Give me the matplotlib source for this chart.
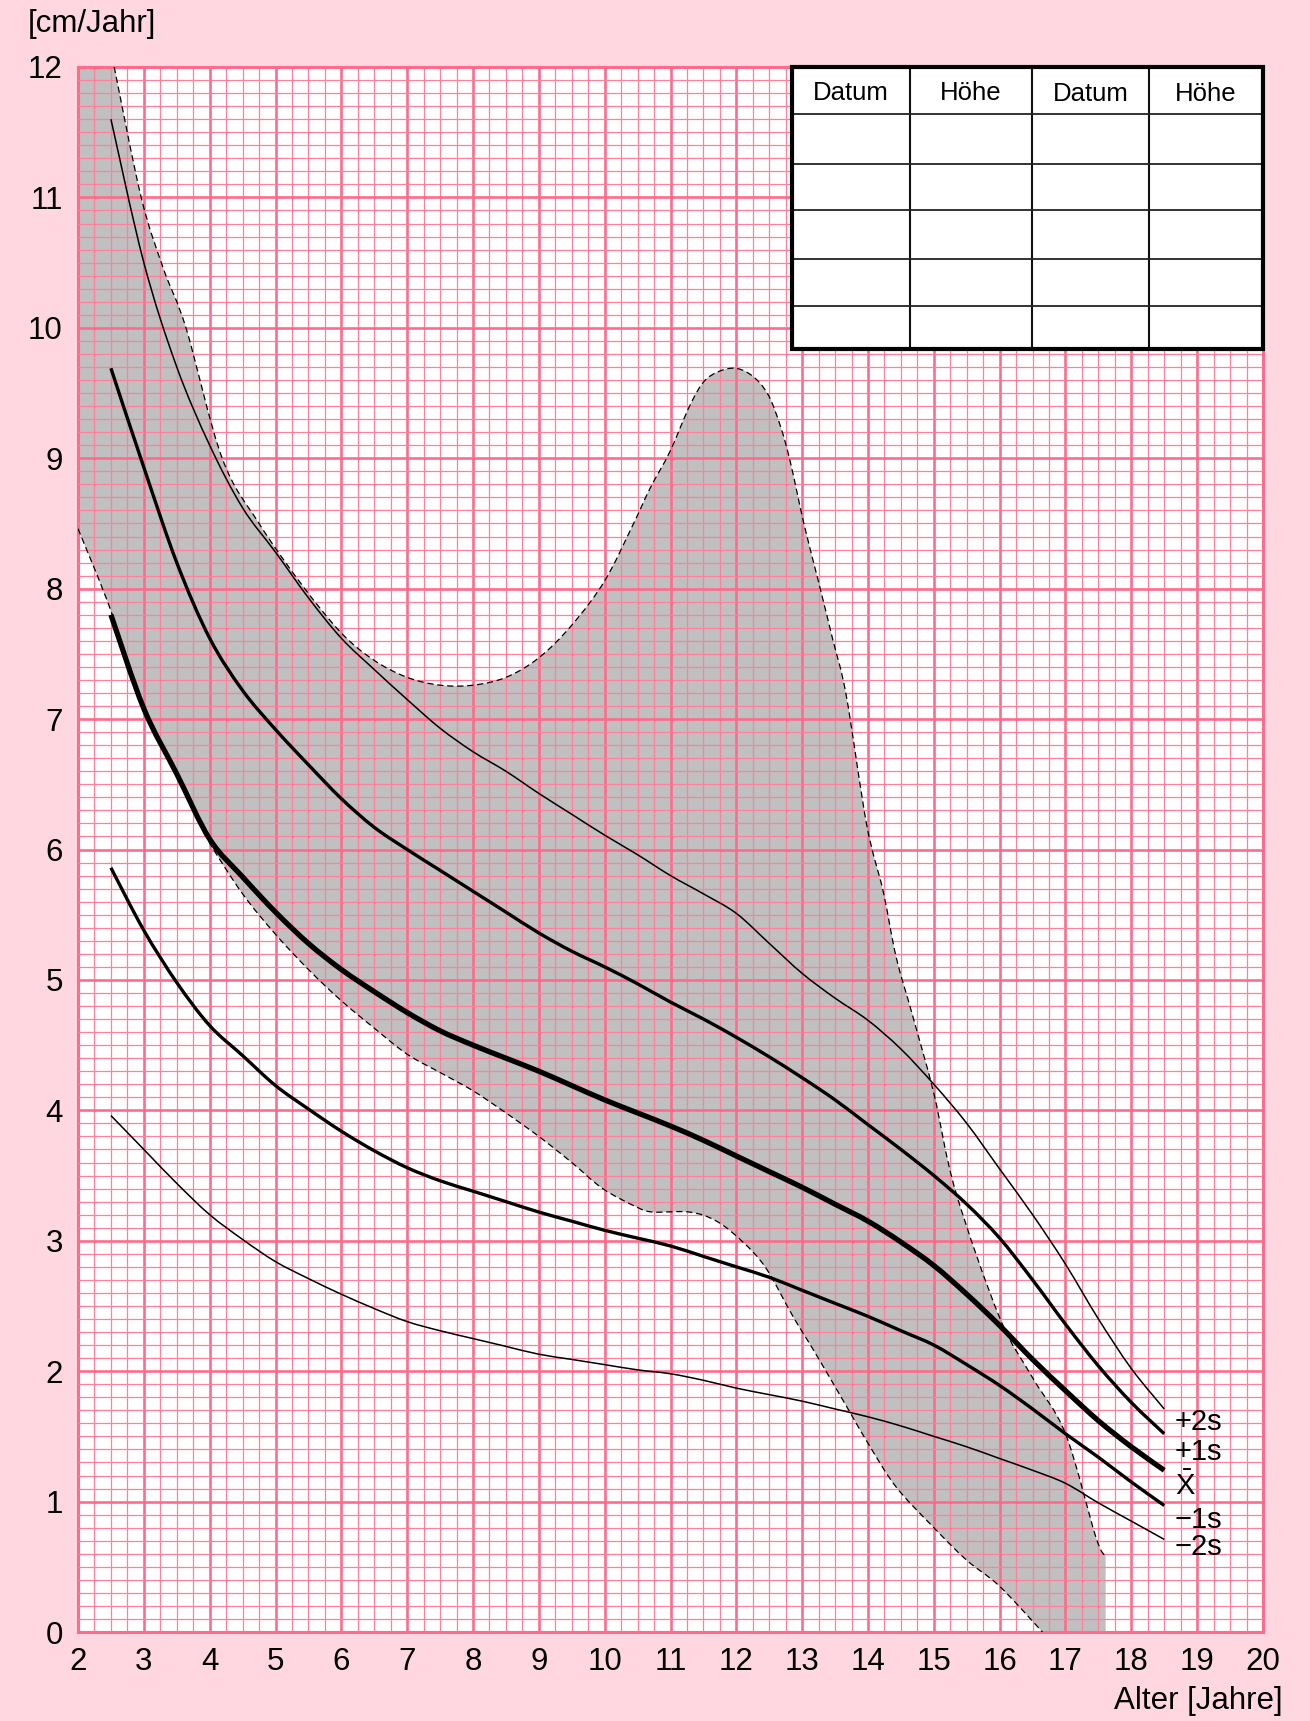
import matplotlib
matplotlib.use("Agg")
import matplotlib.pyplot as plt
from matplotlib.patches import Rectangle, PathPatch
from matplotlib.path import Path

plt.rcParams['font.family'] = ['Liberation Sans', 'DejaVu Sans']
plt.rcParams['mathtext.fontset'] = 'custom'
plt.rcParams['mathtext.rm'] = 'Liberation Sans'

# ages (years) at which the curves were read
ages = [2.5, 3.0, 3.5, 4.0, 4.5, 5.0, 5.5, 6.0, 6.5, 7.0, 7.5, 8.0, 8.5, 9.0, 9.5,
        10.0, 10.5, 11.0, 11.5, 12.0, 12.5, 13.0, 13.5, 14.0, 14.5, 15.0, 15.5,
        16.0, 16.5, 17.0, 17.5, 18.0, 18.5]

plus2s = [11.6, 10.5, 9.7, 9.1, 8.62, 8.28, 7.93, 7.62, 7.38, 7.15, 6.93, 6.75, 6.6,
          6.43, 6.27, 6.11, 5.96, 5.8, 5.66, 5.51, 5.28, 5.05, 4.86, 4.69, 4.47, 4.2,
          3.9, 3.55, 3.2, 2.82, 2.4, 2.02, 1.71]
plus1s = [9.69, 8.93, 8.2, 7.62, 7.22, 6.92, 6.65, 6.39, 6.17, 6.0, 5.84, 5.68, 5.52,
          5.36, 5.22, 5.1, 4.97, 4.83, 4.7, 4.56, 4.41, 4.25, 4.08, 3.89, 3.7, 3.5,
          3.28, 3.02, 2.7, 2.36, 2.04, 1.76, 1.52]
mean = [7.8, 7.08, 6.58, 6.08, 5.79, 5.52, 5.28, 5.08, 4.91, 4.75, 4.61, 4.5, 4.4,
        4.3, 4.19, 4.08, 3.98, 3.88, 3.77, 3.65, 3.53, 3.41, 3.28, 3.15, 2.99, 2.81,
        2.59, 2.35, 2.09, 1.85, 1.62, 1.42, 1.24]
minus1s = [5.86, 5.38, 4.98, 4.65, 4.42, 4.19, 4.01, 3.84, 3.69, 3.56, 3.46, 3.38, 3.3,
           3.22, 3.15, 3.08, 3.02, 2.96, 2.88, 2.8, 2.72, 2.62, 2.52, 2.42, 2.31, 2.2,
           2.05, 1.89, 1.71, 1.52, 1.34, 1.15, 0.97]
minus2s = [3.96, 3.7, 3.44, 3.2, 3.01, 2.84, 2.71, 2.59, 2.48, 2.38, 2.31, 2.25, 2.19,
           2.13, 2.09, 2.05, 2.01, 1.98, 1.93, 1.87, 1.82, 1.77, 1.71, 1.65, 1.58, 1.5,
           1.42, 1.33, 1.24, 1.14, 0.99, 0.85, 0.71]
curve_labels = ['+2s', '+1s', r'$\mathrm{\bar{X}}$', '\u22121s', '\u22122s']

# grey band: upper (dashed) boundary
band_up_x = [2.55, 2.96, 3.3, 3.64, 4.19, 4.75, 5.4, 6.0, 6.5, 7.0, 7.5, 8.0, 8.5, 9.0,
             9.5, 10.0, 10.43, 10.69, 10.99, 11.3, 11.55, 11.92, 12.22, 12.48, 12.68,
             12.83, 13.03, 13.25, 13.46, 13.67, 13.98, 14.23, 14.43, 14.67, 15.0, 15.33,
             16.0, 16.5, 17.0, 17.46, 17.61]
band_up_y = [12.0, 11.0, 10.45, 10.0, 9.0, 8.5, 8.03, 7.66, 7.45, 7.32, 7.26, 7.26, 7.32,
             7.47, 7.72, 8.06, 8.49, 8.77, 9.05, 9.41, 9.61, 9.69, 9.64, 9.49, 9.23,
             8.95, 8.49, 8.05, 7.62, 7.18, 6.19, 5.68, 5.17, 4.74, 4.13, 3.38,
             2.41, 1.95, 1.52, 0.73, 0.58]
# grey band: lower (dashed) boundary
band_lo_x = [2.0, 2.5, 3.0, 3.5, 3.79, 4.0, 4.5, 5.0, 5.5, 6.0, 6.5, 7.0, 7.5, 8.0, 8.5,
             9.0, 9.5, 9.97, 10.48, 10.73, 11.29, 11.7, 12.1, 12.45, 12.86, 13.21,
             13.72, 14.02, 14.43, 15.0, 15.5, 16.0, 16.65]
band_lo_y = [8.46, 7.83, 7.06, 6.58, 6.27, 6.05, 5.66, 5.35, 5.08, 4.84, 4.63, 4.43, 4.29,
             4.15, 3.98, 3.8, 3.6, 3.4, 3.26, 3.22, 3.22, 3.15, 2.99, 2.79, 2.42, 2.13,
             1.69, 1.43, 1.11, 0.8, 0.55, 0.35, 0.0]

table_header = ['Datum', 'H\u00f6he', 'Datum', 'H\u00f6he']

x_ticks = list(range(2, 21))
y_ticks = list(range(0, 13))

# where the curve names sit (data units, right of the curve ends)
label_x = 18.66
label_y = [1.61, 1.38, 1.12, 0.86, 0.65]

grid_major = '#ff6b8c'
grid_minor = '#ff809b'


def smooth(xs, ys):
    # cubic bezier through the read points (catmull-rom tangents)
    pts = list(zip(xs, ys))
    n = len(pts)
    verts = [pts[0]]
    codes = [Path.MOVETO]
    for i in range(n - 1):
        p0 = pts[i - 1] if i > 0 else pts[i]
        p1 = pts[i]
        p2 = pts[i + 1]
        p3 = pts[i + 2] if i + 2 < n else pts[i + 1]
        c1 = (p1[0] + (p2[0] - p0[0]) / 6, p1[1] + (p2[1] - p0[1]) / 6)
        c2 = (p2[0] - (p3[0] - p1[0]) / 6, p2[1] - (p3[1] - p1[1]) / 6)
        verts += [c1, c2, p2]
        codes += [Path.CURVE4] * 3
    return verts, codes


fig = plt.figure(figsize=(13.1, 17.21), dpi=100, facecolor='#ffd7e0')
ax = fig.add_axes([78 / 1310, 1 - 1632 / 1721, 1185 / 1310, 1565 / 1721])
ax.set_facecolor('white')
ax.set_xlim(2, 20)
ax.set_ylim(0, 12)

# band
up_v, up_c = smooth(band_up_x, band_up_y)
lo_v, lo_c = smooth(band_lo_x[::-1], band_lo_y[::-1])
verts = [(band_lo_x[0], band_lo_y[0]), (2.0, 12.0)] + up_v
codes = [Path.MOVETO, Path.LINETO, Path.LINETO] + up_c[1:]
verts += [(band_up_x[-1], 0.0)] + lo_v + [(band_lo_x[0], band_lo_y[0])]
codes += [Path.LINETO, Path.LINETO] + lo_c[1:] + [Path.CLOSEPOLY]
ax.add_patch(PathPatch(Path(verts, codes), facecolor='#c0c0c0', edgecolor='none',
                       zorder=1))
for bx, by in [(band_up_x, band_up_y), (band_lo_x, band_lo_y)]:
    v, c = smooth(bx, by)
    ax.add_patch(PathPatch(Path(v, c), fill=False, edgecolor='black', lw=0.9,
                           ls=(0, (5, 3)), zorder=3))

# grid
ax.set_xticks(x_ticks)
ax.set_yticks(y_ticks)
ax.set_xticks([2 + i * 0.25 for i in range(73)], minor=True)
ax.set_yticks([i * 0.1 for i in range(121)], minor=True)
ax.set_axisbelow(False)
ax.grid(which='minor', color=grid_minor, lw=0.9)
ax.grid(which='major', color=grid_major, lw=1.9)
ax.tick_params(which='both', length=0)
ax.tick_params(axis='both', labelsize=22.5, pad=11)
for s in ax.spines.values():
    s.set_color(grid_major)
    s.set_linewidth(2.2)

# curves
series = [plus2s, plus1s, mean, minus1s, minus2s]
widths = [1.1, 2.4, 3.8, 2.4, 1.1]
for vals, w, lab, ly in zip(series, widths, curve_labels, label_y):
    v, c = smooth(ages, vals)
    ax.add_patch(PathPatch(Path(v, c), fill=False, edgecolor='black', lw=w,
                           zorder=4, capstyle='butt'))
    ax.text(label_x, ly, lab, fontsize=21, va='center', ha='left', zorder=6)

# table in upper right corner
tx0, tx1 = 12.85, 20.0
ty0, ty1 = 9.84, 12.0
col_edges = [12.85, 14.64, 16.49, 18.27, 20.0]
row_edges = [12.0, 11.64, 11.26, 10.9, 10.53, 10.17, 9.84]
ax.add_patch(Rectangle((tx0, ty0), tx1 - tx0, ty1 - ty0, facecolor='white',
                       edgecolor='none', zorder=5))
for cx in col_edges[1:-1]:
    ax.plot([cx, cx], [ty0, ty1], color='#111111', lw=1.5, zorder=6)
for ry in row_edges[1:-1]:
    ax.plot([tx0, tx1], [ry, ry], color='#222222', lw=1.3, zorder=6)
ax.add_patch(Rectangle((tx0, ty0), tx1 - tx0, ty1 - ty0, facecolor='none',
                       edgecolor='black', lw=3.0, zorder=7, clip_on=False))
for i, h in enumerate(table_header):
    ax.text((col_edges[i] + col_edges[i + 1]) / 2,
            (row_edges[0] + row_edges[1]) / 2 - 0.02 - 0.01 * (i >= 2),
            h, fontsize=18.5, ha='center', va='center', zorder=8)

fig.text(28 / 1310, 1 - 24 / 1721, '[cm/Jahr]', fontsize=22.5, ha='left', va='center')
fig.text(1283 / 1310, 1 - 1701 / 1721, 'Alter [Jahre]', fontsize=22.5, ha='right',
         va='center')

fig.savefig('out.png', dpi=100, facecolor=fig.get_facecolor())
